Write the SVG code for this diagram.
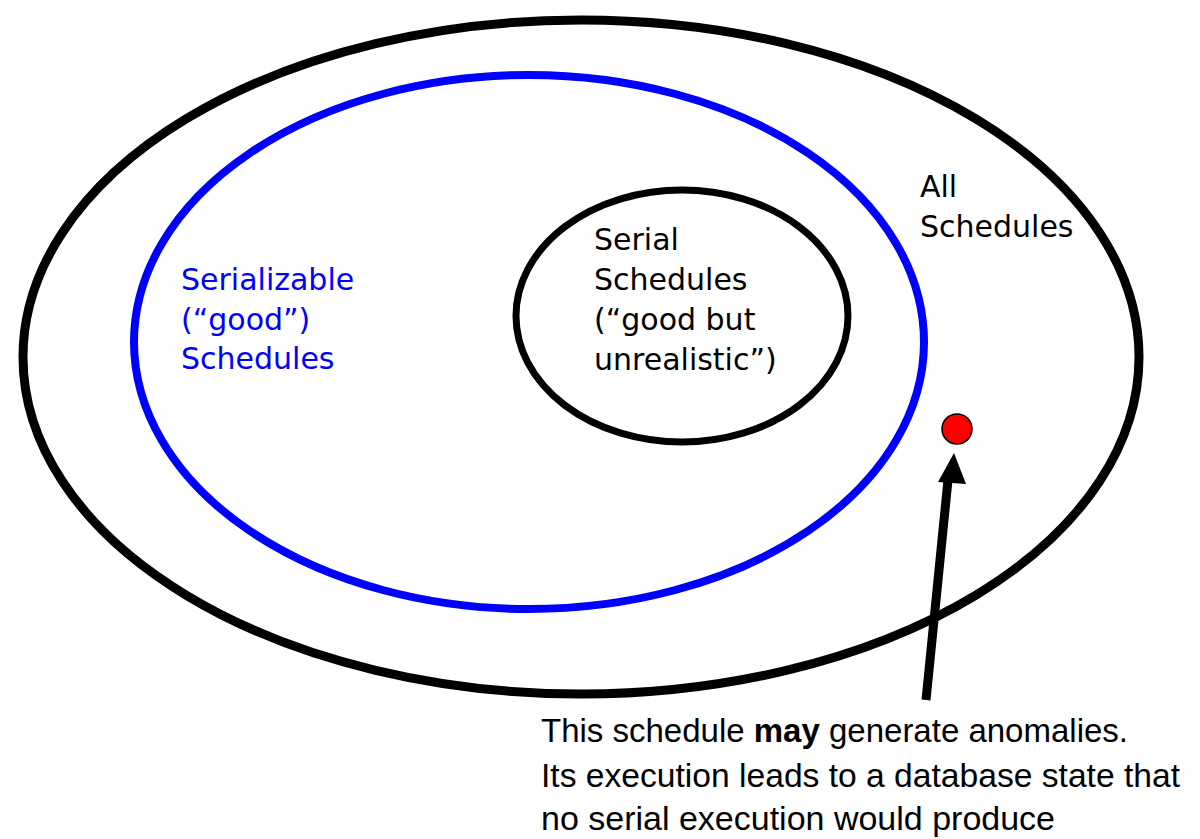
<svg xmlns="http://www.w3.org/2000/svg" width="1200" height="839" viewBox="0 0 1200 839">
<style>
.hand{font-family:"DejaVu Sans","Liberation Sans",sans-serif;font-size:30px;fill:#000}
.blue{fill:#0000ff}
.note{font-family:"Liberation Sans","Open Sans",sans-serif;font-size:33px;fill:#000}
</style>
<rect width="1200" height="839" fill="#fff"/>
<g id="all-schedules">
<ellipse cx="581" cy="357" rx="558" ry="337" fill="none" stroke="#000" stroke-width="9"/>
<text class="hand" x="920" y="197">All</text>
<text class="hand" x="920" y="237">Schedules</text>
</g>
<g id="serializable">
<ellipse cx="529" cy="342" rx="395" ry="267" fill="none" stroke="#0000ff" stroke-width="8"/>
<text class="hand blue" x="181" y="290">Serializable</text>
<text class="hand blue" x="181" y="330">(“good”)</text>
<text class="hand blue" x="181" y="369">Schedules</text>
</g>
<g id="serial">
<ellipse cx="682" cy="316" rx="166" ry="126" fill="none" stroke="#000" stroke-width="7"/>
<text class="hand" x="594" y="250">Serial</text>
<text class="hand" x="594" y="290">Schedules</text>
<text class="hand" x="594" y="330">(“good but</text>
<text class="hand" x="594" y="370">unrealistic”)</text>
</g>
<g id="anomaly-schedule">
<circle cx="957" cy="429" r="15" fill="#ff0000" stroke="#000" stroke-width="1.5"/>
</g>
<g id="connectors">
<line x1="926" y1="700" x2="948" y2="480" stroke="#000" stroke-width="9"/>
<path d="M954,453 L966,484 L938,482 Z" fill="#000"/>
</g>
<g id="note">
<text class="note" x="541" y="742" textLength="587" lengthAdjust="spacingAndGlyphs">This schedule <tspan font-weight="bold">may</tspan> generate anomalies.</text>
<text class="note" x="541" y="787" textLength="639" lengthAdjust="spacingAndGlyphs">Its execution leads to a database state that</text>
<text class="note" x="541" y="830" textLength="514" lengthAdjust="spacingAndGlyphs">no serial execution would produce</text>
</g>
</svg>
